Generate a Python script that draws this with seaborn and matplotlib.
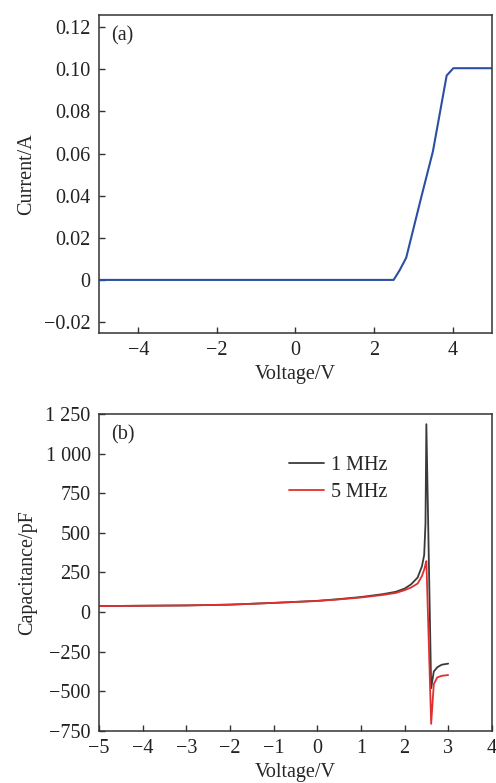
import numpy as np
import pandas as pd
import matplotlib
matplotlib.use("Agg")
import matplotlib.pyplot as plt
import seaborn as sns

# (a) I-V characteristic
iv_voltage = [-5.0, 2.5, 2.65, 2.82, 3.2, 3.5, 3.85, 4.02, 5.0]
iv_current = [0.0, 0.0, 0.0045, 0.0105, 0.039, 0.061, 0.097, 0.1005, 0.1005]
a_xticks = [-4, -2, 0, 2, 4]
a_yticks = [-0.02, 0.0, 0.02, 0.04, 0.06, 0.08, 0.10, 0.12]
a_yticklabels = ["\u22120.02", "0", "0.02", "0.04", "0.06", "0.08", "0.10", "0.12"]

# (b) C-V characteristic at two frequencies
cv_voltage = [-5.0, -4.0, -3.0, -2.0, -1.0, 0.0, 0.5, 1.0, 1.5, 1.8, 2.0, 2.15,
              2.3, 2.4, 2.45, 2.48, 2.5, 2.61, 2.67, 2.75, 2.85, 3.0]
cap_1mhz = [38, 40, 42, 47, 58, 71, 82, 95, 113, 128, 148, 175,
            218, 290, 360, 560, 1185, -480, -375, -348, -332, -325]
cap_5mhz = [38, 40, 42, 47, 58, 70, 80, 92, 108, 121, 138, 155,
            180, 228, 268, 300, 322, -705, -455, -412, -402, -397]
freq_labels = ["1 MHz", "5 MHz"]
b_xticks = [-5, -4, -3, -2, -1, 0, 1, 2, 3, 4]
b_yticks = [-750, -500, -250, 0, 250, 500, 750, 1000, 1250]
b_yticklabels = ["\u2212750", "\u2212500", "\u2212250", "0", "250", "500", "750", "1 000", "1 250"]

sns.set_style("ticks")
plt.rcParams["font.family"] = ["Liberation Serif", "DejaVu Serif"]
plt.rcParams["font.size"] = 14.5
plt.rcParams["axes.edgecolor"] = "#333333"
plt.rcParams["axes.linewidth"] = 1.1
plt.rcParams["xtick.direction"] = "in"
plt.rcParams["ytick.direction"] = "in"
plt.rcParams["xtick.color"] = "#333333"
plt.rcParams["ytick.color"] = "#333333"
plt.rcParams["xtick.labelcolor"] = "#222222"
plt.rcParams["ytick.labelcolor"] = "#222222"

fig = plt.figure(figsize=(4.96, 7.83), dpi=100)
ax1 = fig.add_axes([0.1996, 0.5747, 0.792, 0.406])
ax2 = fig.add_axes([0.1996, 0.0664, 0.792, 0.405])

df_a = pd.DataFrame({"Voltage": iv_voltage, "Current": iv_current})
sns.lineplot(data=df_a, x="Voltage", y="Current", ax=ax1, color="#2C4FA3",
             linewidth=1.5, sort=False)
ax1.set_xlim(-5, 5)
ax1.set_ylim(-0.0252, 0.1257)
ax1.set_xticks(a_xticks)
ax1.set_xticklabels(["\u22124", "\u22122", "0", "2", "4"])
ax1.set_yticks(a_yticks)
ax1.set_yticklabels(a_yticklabels)
ax1.set_xlabel("Voltage/V", labelpad=3)
ax1.set_ylabel("Current/A", labelpad=6)
ax1.text(0.03, 0.965, "(a)", transform=ax1.transAxes, ha="left", va="top")

df_b = pd.DataFrame({
    "Voltage": cv_voltage * 2,
    "Capacitance": cap_1mhz + cap_5mhz,
    "Frequency": [freq_labels[0]] * len(cv_voltage) + [freq_labels[1]] * len(cv_voltage),
})
sns.lineplot(data=df_b, x="Voltage", y="Capacitance", hue="Frequency", ax=ax2,
             palette={"1 MHz": "#3a3a3a", "5 MHz": "#E0302E"}, linewidth=1.3,
             sort=False)
ax2.set_xlim(-5, 4)
ax2.set_ylim(-750, 1250)
ax2.set_xticks(b_xticks)
ax2.set_xticklabels(["\u22125", "\u22124", "\u22123", "\u22122", "\u22121", "0", "1", "2", "3", "4"])
ax2.set_yticks(b_yticks)
ax2.set_yticklabels(b_yticklabels)
ax2.set_xlabel("Voltage/V", labelpad=3)
ax2.set_ylabel("Capacitance/pF", labelpad=6)
ax2.text(0.03, 0.965, "(b)", transform=ax2.transAxes, ha="left", va="top")
leg = ax2.legend(loc="upper left", bbox_to_anchor=(0.462, 0.893), frameon=False,
                 title=None, handlelength=1.75, handletextpad=0.35, labelspacing=0.4,
                 fontsize=14.5, borderaxespad=0.0)

for ax in (ax1, ax2):
    for side in ("top", "right", "left", "bottom"):
        ax.spines[side].set_visible(True)
    ax.tick_params(axis="both", which="both", length=4, width=1, top=False, right=False, pad=6)

fig.savefig("out.png", dpi=100)
